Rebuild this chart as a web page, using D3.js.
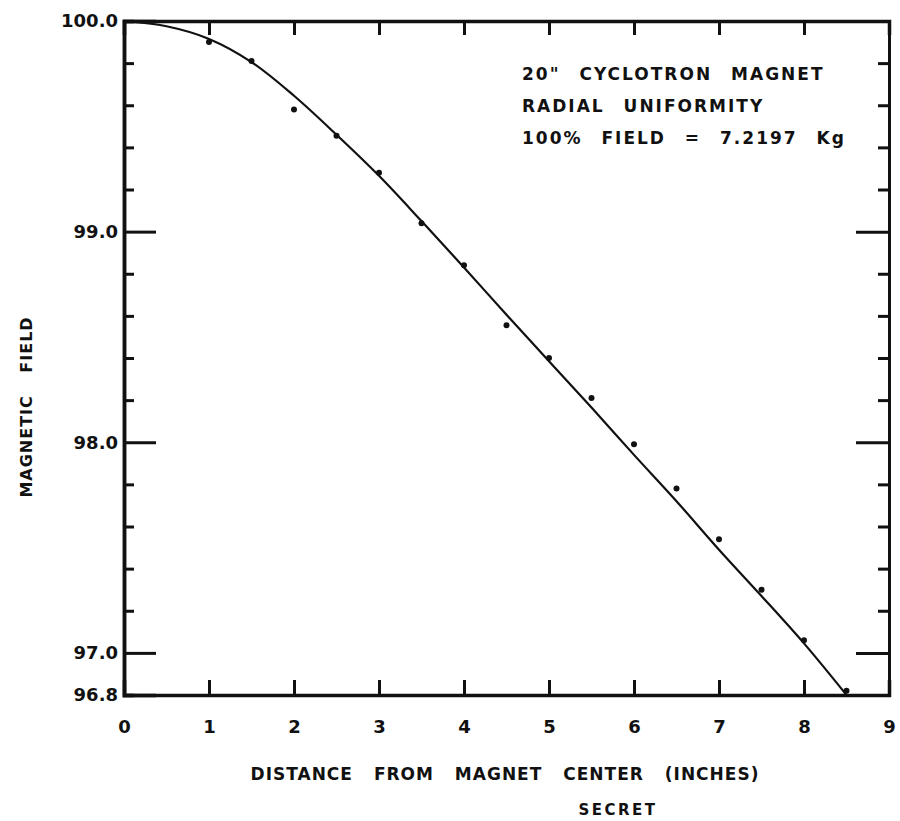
<!DOCTYPE html>
<html>
<head>
<meta charset="utf-8">
<script src="https://cdn.jsdelivr.net/npm/d3@7"></script>
<style>
	body { margin: 0; background: #fff; }
	text { font-family: "DejaVu Sans", sans-serif; font-weight: bold; fill: #111; }
</style>
</head>
<body>
<div id="chart"></div>
<script>
// measured points (distance in inches, field in %)
var distance = [1, 1.5, 2, 2.5, 3, 3.5, 4, 4.5, 5, 5.5, 6, 6.5, 7, 7.5, 8, 8.5];
var field = [99.90, 99.81, 99.58, 99.455, 99.28, 99.04, 98.84, 98.555, 98.40, 98.21, 97.99, 97.78, 97.54, 97.30, 97.06, 96.82];

// drawn smooth curve
var curveX = [0, 0.5, 1, 1.5, 2, 2.5, 3, 3.5, 4, 4.5, 5, 5.5, 6, 6.5, 7, 7.5, 8, 8.5];
var curveY = [100.0, 99.975, 99.915, 99.805, 99.645, 99.46, 99.265, 99.05, 98.83, 98.605, 98.385, 98.165, 97.94, 97.72, 97.49, 97.27, 97.045, 96.8];

var xTicks = [1, 2, 3, 4, 5, 6, 7, 8];
var xLabels = [0, 1, 2, 3, 4, 5, 6, 7, 8, 9];
var yMinor = [99.8, 99.6, 99.4, 99.2, 98.8, 98.6, 98.4, 98.2, 97.8, 97.6, 97.4, 97.2];
var yMajor = [99, 98, 97];
var yLabels = [100, 99, 98, 97, 96.8];

var titleLines = ["20\" CYCLOTRON MAGNET", "RADIAL UNIFORMITY", "100% FIELD = 7.2197 Kg"];

var w = 900,
	h = 821,
	svg = d3
		.select("#chart")
		.append("svg")
		.attr("width", w)
		.attr("height", h);

var x = d3.scaleLinear()
	.domain([0, 9])
	.range([124, 889]);

var y = d3.scaleLinear()
	.domain([96.8, 100])
	.range([695, 21]);

function styleAxis(g, width) {
	g.select(".domain").attr("stroke", "#111").attr("stroke-width", width);
	g.selectAll(".tick line").attr("stroke", "#111").attr("stroke-width", 3);
	g.selectAll(".tick text")
		.style("font-size", "18px")
		.style("font-weight", "bold")
		.style("font-family", "'DejaVu Sans', sans-serif")
		.attr("fill", "#111");
}

// left
svg.append("g").attr("transform", `translate(${x(0)},0)`)
	.call(d3.axisLeft(y).tickValues(yMinor).tickSize(-10).tickFormat(""))
	.call(styleAxis, 3.5);
svg.append("g").attr("transform", `translate(${x(0)},0)`)
	.call(d3.axisLeft(y).tickValues(yMajor).tickSize(-32).tickFormat(""))
	.call(styleAxis, 3.5);
svg.append("g").attr("transform", `translate(${x(0) - 1},0)`)
	.call(d3.axisLeft(y).tickValues(yLabels).tickSize(0).tickPadding(5).tickFormat(d3.format(".1f")))
	.call(function(g){ g.select(".domain").remove(); })
	.call(styleAxis, 0);

// right
svg.append("g").attr("transform", `translate(${x(9)},0)`)
	.call(d3.axisRight(y).tickValues(yMinor).tickSize(-11).tickFormat(""))
	.call(styleAxis, 3);
svg.append("g").attr("transform", `translate(${x(9)},0)`)
	.call(d3.axisRight(y).tickValues(yMajor).tickSize(-33).tickFormat(""))
	.call(styleAxis, 3);

// top
svg.append("g").attr("transform", `translate(0,${y(100)})`)
	.call(d3.axisTop(x).tickValues(xTicks).tickSize(-14).tickFormat(""))
	.call(styleAxis, 3.5);

// bottom
svg.append("g").attr("transform", `translate(0,${y(96.8)})`)
	.call(d3.axisBottom(x).tickValues(xTicks).tickSize(-15).tickFormat(""))
	.call(styleAxis, 3.5);
svg.append("g").attr("transform", `translate(0,${y(96.8)})`)
	.call(d3.axisBottom(x).tickValues(xLabels).tickSize(0).tickPadding(25).tickFormat(d3.format("d")))
	.call(function(g){ g.select(".domain").remove(); })
	.call(styleAxis, 0);

// curve
var line = d3.line()
	.x(function(d, i){ return x(curveX[i]); })
	.y(function(d){ return y(d); })
	.curve(d3.curveCatmullRom);

svg.append("path")
	.datum(curveY)
	.attr("d", line)
	.attr("fill", "none")
	.attr("stroke", "#111")
	.attr("stroke-width", 2.2);

// measured points
svg.selectAll("circle.pt").data(field).enter().append("circle")
	.attr("class", "pt")
	.attr("cx", function(d, i){ return x(distance[i]); })
	.attr("cy", function(d){ return y(d); })
	.attr("r", 3)
	.attr("fill", "#111");

// annotation
svg.selectAll("text.note").data(titleLines).enter().append("text")
	.attr("class", "note")
	.attr("x", 522)
	.attr("y", function(d, i){ return 80 + i * 32; })
	.style("font-size", "17px")
	.style("letter-spacing", "2px")
	.style("word-spacing", "11px")
	.text(function(d){ return d; });

// axis titles
svg.append("text")
	.attr("x", 505)
	.attr("y", 780)
	.attr("text-anchor", "middle")
	.style("font-size", "17px")
	.style("letter-spacing", "1px")
	.style("word-spacing", "14px")
	.text("DISTANCE FROM MAGNET CENTER (INCHES)");

svg.append("text")
	.attr("transform", "translate(32,407) rotate(-90)")
	.attr("text-anchor", "middle")
	.style("font-size", "16px")
	.style("letter-spacing", "1px")
	.style("word-spacing", "16px")
	.text("MAGNETIC FIELD");

svg.append("text")
	.attr("x", 618)
	.attr("y", 815)
	.attr("text-anchor", "middle")
	.style("font-size", "15px")
	.style("letter-spacing", "2.5px")
	.text("SECRET");
</script>
</body>
</html>
